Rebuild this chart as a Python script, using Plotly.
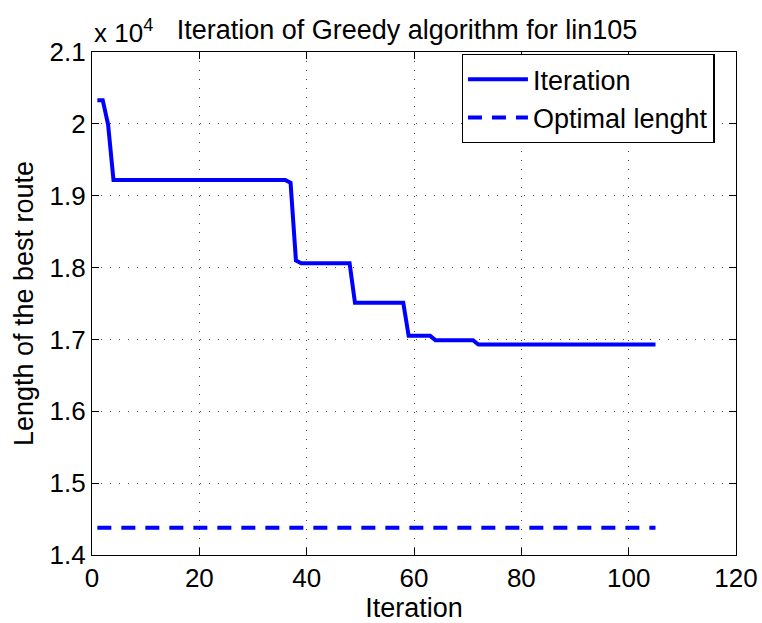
import plotly.graph_objects as go

iterations = list(range(1, 106))
# best route length per iteration
best_len = ([20330, 20330, 19990] + [19220] * 33 + [19180, 18100] + [18060] * 10
            + [17510] * 10 + [17050] * 5 + [16990] * 8 + [16930] * 34)
optimal_value = 14379
optimal_len = [optimal_value] * len(iterations)

x_ticks = [0, 20, 40, 60, 80, 100, 120]
y_ticks = [14000, 15000, 16000, 17000, 18000, 19000, 20000, 21000]
y_tick_text = ["1.4", "1.5", "1.6", "1.7", "1.8", "1.9", "2", "2.1"]

font = "Liberation Sans, Arial, sans-serif"

fig = go.Figure()
fig.add_trace(go.Scatter(x=iterations, y=best_len, mode="lines", name="Iteration",
                         line=dict(color="#0000ff", width=4)))
fig.add_trace(go.Scatter(x=iterations, y=optimal_len, mode="lines", name="Optimal lenght",
                         line=dict(color="#0000ff", width=4, dash="14px,10px")))

axis_common = dict(showline=True, linecolor="black", linewidth=1.3, mirror="ticks",
                   ticks="inside", ticklen=7, tickcolor="black", automargin=False,
                   showgrid=True, gridcolor="#444444", griddash="1.3px,7.7px", gridwidth=1,
                   zeroline=False, tickfont=dict(size=26, color="black", family=font))

fig.update_xaxes(range=[0, 120], tickvals=x_ticks,
                 title=dict(text="Iteration", font=dict(size=27, color="black", family=font), standoff=0),
                 **axis_common)
fig.update_yaxes(range=[14000, 21000], tickvals=y_ticks, ticktext=y_tick_text,
                 title=dict(text="Length of the best route", font=dict(size=27, color="black", family=font), standoff=8),
                 **axis_common)

fig.update_layout(
    width=762, height=623,
    margin=dict(l=92, r=26, t=52, b=68, autoexpand=False),
    paper_bgcolor="white", plot_bgcolor="white",
    font=dict(family=font, color="black"),
    title=dict(text="Iteration of Greedy algorithm for lin105", x=407 / 762, xanchor="center",
               xref="container", yref="container",
               y=1 - 30 / 623, yanchor="middle", font=dict(size=27, color="black", family=font)),
    legend=dict(x=0.574, y=0.996, xanchor="left", yanchor="top", bgcolor="white",
                bordercolor="black", borderwidth=1.3, font=dict(size=27, color="black", family=font),
                tracegroupgap=0, itemwidth=60),
    showlegend=True,
)
fig.add_annotation(text="x 10<sup>4</sup>", xref="paper", yref="paper", x=0.0, y=1.0,
                   xanchor="left", yanchor="bottom", showarrow=False, yshift=2,
                   font=dict(size=26, color="black", family=font))

fig.write_html("out.html")
